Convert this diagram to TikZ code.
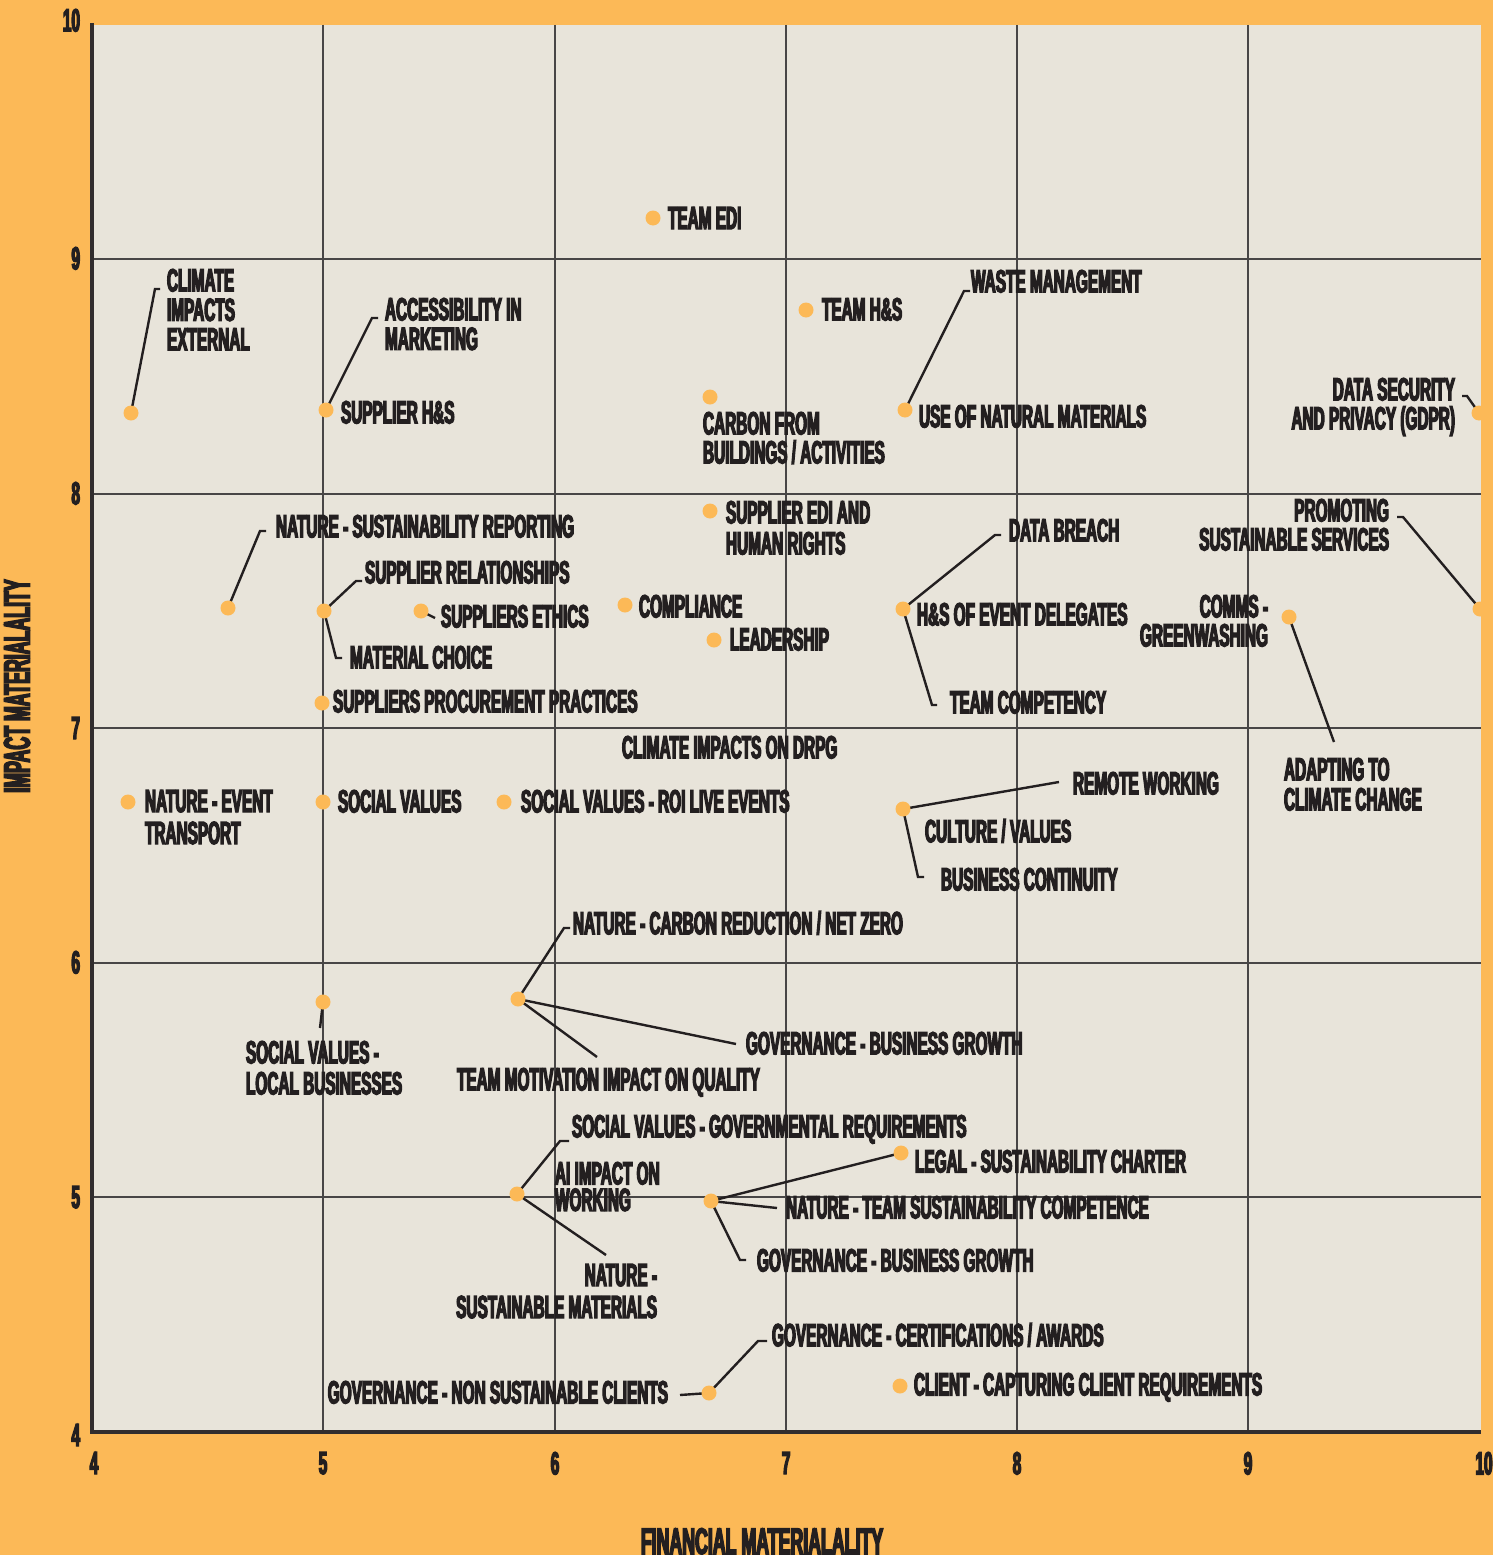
\documentclass[tikz,border=0pt]{standalone}
\usepackage{fontspec}
\newfontfamily\lblfont{Liberation Sans}[FakeStretch=0.48, FakeBold=4]
\definecolor{bgorange}{RGB}{252,185,87}
\definecolor{plotbg}{RGB}{232,228,218}
\definecolor{ink}{RGB}{35,31,32}
\definecolor{gridc}{RGB}{72,70,70}
\definecolor{dotc}{RGB}{252,185,87}
\tikzset{
  lbl/.style={font={\lblfont\bfseries\fontsize{32}{#1}\selectfont\lineskiplimit=-100pt}, text=ink, inner sep=0pt, outer sep=0pt},
  lbl/.default=29.5,
  lnw/.style={lbl=#1, anchor=north west, align=left},
  lnw/.default=29.5,
  lne/.style={lbl=#1, anchor=north east, align=right},
  lne/.default=29.5,
  dot/.style={circle, fill=dotc, inner sep=0pt, minimum size=15pt},
  leader/.style={draw=ink, line width=2.4pt, line cap=butt, line join=miter},
  gridline/.style={draw=gridc, line width=1.4pt},
  axisline/.style={draw=ink!85!gray, line width=4pt},
  title/.style={font={\lblfont\bfseries\fontsize{37}{40}\selectfont}, text=ink, inner sep=0pt},
}
\begin{document}
\begin{tikzpicture}[x=1pt,y=-1pt]
\useasboundingbox (0,0) rectangle (1493,1555);
\fill[bgorange] (0,0) rectangle (1493,1555);
\fill[plotbg] (92,25) rectangle (1481,1432);
% grid
\foreach \gx in {323,555,786,1017,1248} \draw[gridline] (\gx,25) -- (\gx,1432);
\foreach \gy in {259,494,728,963,1197} \draw[gridline] (92,\gy) -- (1481,\gy);
% axes
\draw[axisline] (92,23) -- (92,1434);
\draw[axisline] (90,1432) -- (1481,1432);

% dot centres
\coordinate (cCIE) at (131,413);
\coordinate (cSHS) at (326,410);
\coordinate (cEDI) at (653,218);
\coordinate (cTHS) at (806,310);
\coordinate (cCAR) at (710,397);
\coordinate (cUNM) at (905,410);
\coordinate (cGDPR) at (1479,413);
\coordinate (cNSR) at (228,608);
\coordinate (cSRL) at (324,611);
\coordinate (cSE) at (421,611);
\coordinate (cSPP) at (322,703);
\coordinate (cCOM) at (625,605);
\coordinate (cLEAD) at (714,640);
\coordinate (cSEDI) at (710,511);
\coordinate (cHSE) at (903,609);
\coordinate (cPSS) at (1480,609);
\coordinate (cCG) at (1289,617);
\coordinate (cRW) at (903,809);
\coordinate (cNET) at (128,802);
\coordinate (cSV) at (323,802);
\coordinate (cSVR) at (504,802);
\coordinate (cNCR) at (518,999);
\coordinate (cSVL) at (323,1002);
\coordinate (cAI) at (517,1194);
\coordinate (cNTS) at (711,1201);
\coordinate (cLEG) at (901,1153);
\coordinate (cGNS) at (709,1393);
\coordinate (cCLI) at (900,1386);

% leader bend / end points
\coordinate (bCIE) at (155,289);   \coordinate (eCIE) at (160,289);
\coordinate (bACC) at (372,318);   \coordinate (eACC) at (378,318);
\coordinate (bWM) at (964,291);    \coordinate (eWM) at (970,291);
\coordinate (bGDPR) at (1467,396); \coordinate (eGDPR) at (1462,396);
\coordinate (bNSR) at (260,531);   \coordinate (eNSR) at (266,531);
\coordinate (bSRL) at (356,581);   \coordinate (eSRL) at (362,581);
\coordinate (bMC) at (336,658);    \coordinate (eMC) at (342,658);
\coordinate (eSE) at (435,618);
\coordinate (bDB) at (995,535);    \coordinate (eDB) at (1001,535);
\coordinate (bTC) at (932,705);    \coordinate (eTC) at (937,705);
\coordinate (bPSS) at (1403,517);  \coordinate (ePSS) at (1397,517);
\coordinate (eADP) at (1334,742);
\coordinate (eRW) at (1059,782);
\coordinate (bBC) at (918,877);    \coordinate (eBC) at (924,877);
\coordinate (bNCR) at (564,928);   \coordinate (eNCR) at (570,928);
\coordinate (eGBG) at (736,1044);
\coordinate (eTM) at (597,1057);
\coordinate (eSVL) at (320,1028);
\coordinate (bSVG) at (560,1141);  \coordinate (eSVG) at (569,1141);
\coordinate (eNSM) at (606,1255);
\coordinate (eNTS) at (777,1208);
\coordinate (bGBG2) at (740,1260); \coordinate (eGBG2) at (746,1260);
\coordinate (bGCA) at (758,1341);  \coordinate (eGCA) at (767,1341);
\coordinate (eGNS) at (680,1395);

% leaders
\draw[leader] (cCIE) -- (bCIE) -- (eCIE);
\draw[leader] (cSHS) -- (bACC) -- (eACC);
\draw[leader] (cUNM) -- (bWM) -- (eWM);
\draw[leader] (cGDPR) -- (bGDPR) -- (eGDPR);
\draw[leader] (cNSR) -- (bNSR) -- (eNSR);
\draw[leader] (cSRL) -- (bSRL) -- (eSRL);
\draw[leader] (cSRL) -- (bMC) -- (eMC);
\draw[leader] (cSE) -- (eSE);
\draw[leader] (cHSE) -- (bDB) -- (eDB);
\draw[leader] (cHSE) -- (bTC) -- (eTC);
\draw[leader] (cPSS) -- (bPSS) -- (ePSS);
\draw[leader] (cCG) -- (eADP);
\draw[leader] (cRW) -- (eRW);
\draw[leader] (cRW) -- (bBC) -- (eBC);
\draw[leader] (cNCR) -- (bNCR) -- (eNCR);
\draw[leader] (cNCR) -- (eGBG);
\draw[leader] (cNCR) -- (eTM);
\draw[leader] (cSVL) -- (eSVL);
\draw[leader] (cAI) -- (bSVG) -- (eSVG);
\draw[leader] (cAI) -- (eNSM);
\draw[leader] (cNTS) -- (cLEG);
\draw[leader] (cNTS) -- (eNTS);
\draw[leader] (cNTS) -- (bGBG2) -- (eGBG2);
\draw[leader] (cGNS) -- (bGCA) -- (eGCA);
\draw[leader] (cGNS) -- (eGNS);

% dots
\begin{scope}
\clip (92,25) rectangle (1481,1432);
\foreach \n in {CIE,SHS,EDI,THS,CAR,UNM,GDPR,NSR,SRL,SE,SPP,COM,LEAD,SEDI,HSE,PSS,CG,RW,NET,SV,SVR,NCR,SVL,AI,NTS,LEG,GNS,CLI}
  \node[dot] (d\n) at (c\n) {};
\end{scope}

% labels
\node[lnw] (tCIE) at (167,269) {CLIMATE\\IMPACTS\\EXTERNAL};
\node[lnw] (tACC) at (385,298) {ACCESSIBILITY IN\\MARKETING};
\node[lnw] (tSHS) at (341,401) {SUPPLIER H\&S};
\node[lnw] (tEDI) at (668,207) {TEAM EDI};
\node[lnw] (tTHS) at (822,298) {TEAM H\&S};
\node[lnw=29] (tCAR) at (703,412) {CARBON FROM\\BUILDINGS / ACTIVITIES};
\node[lnw] (tWM) at (971,270) {WASTE MANAGEMENT};
\node[lnw] (tUNM) at (919,405) {USE OF NATURAL MATERIALS};
\node[lne=29] (tGDPR) at (1455,378) {DATA SECURITY\\AND PRIVACY (GDPR)};
\node[lnw] (tNSR) at (276,515) {NATURE - SUSTAINABILITY REPORTING};
\node[lnw] (tSRL) at (365,561) {SUPPLIER RELATIONSHIPS};
\node[lnw] (tSE) at (441,605) {SUPPLIERS ETHICS};
\node[lnw] (tMC) at (350,646) {MATERIAL CHOICE};
\node[lnw] (tSPP) at (333,690) {SUPPLIERS PROCUREMENT PRACTICES};
\node[lnw] (tCOM) at (639,595) {COMPLIANCE};
\node[lnw] (tLEAD) at (730,628) {LEADERSHIP};
\node[lnw=31] (tSEDI) at (726,501) {SUPPLIER EDI AND\\HUMAN RIGHTS};
\node[lnw] (tHSE) at (917,603) {H\&S OF EVENT DELEGATES};
\node[lnw] (tDB) at (1009,519) {DATA BREACH};
\node[lnw] (tTC) at (950,691) {TEAM COMPETENCY};
\node[lnw] (tCID) at (622,736) {CLIMATE IMPACTS ON DRPG};
\node[lne=29] (tPSS) at (1389,499) {PROMOTING\\SUSTAINABLE SERVICES};
\node[lne=29] (tCG) at (1268,595) {COMMS -\\GREENWASHING};
\node[lnw=30] (tADP) at (1284,758) {ADAPTING TO\\CLIMATE CHANGE};
\node[lnw] (tRW) at (1073,772) {REMOTE WORKING};
\node[lnw] (tCV) at (925,819) {CULTURE / VALUES};
\node[lnw] (tBC) at (941,868) {BUSINESS CONTINUITY};
\node[lnw=32] (tNET) at (145,790) {NATURE - EVENT\\TRANSPORT};
\node[lnw] (tSV) at (338,790) {SOCIAL VALUES};
\node[lnw] (tSVR) at (521,790) {SOCIAL VALUES - ROI LIVE EVENTS};
\node[lnw] (tNCR) at (573,911) {NATURE - CARBON REDUCTION / NET ZERO};
\node[lnw] (tGBG) at (746,1032) {GOVERNANCE - BUSINESS GROWTH};
\node[lnw] (tTM) at (457,1068) {TEAM MOTIVATION IMPACT ON QUALITY};
\node[lnw=31] (tSVL) at (246,1041) {SOCIAL VALUES -\\LOCAL BUSINESSES};
\node[lnw] (tSVG) at (572,1115) {SOCIAL VALUES - GOVERNMENTAL REQUIREMENTS};
\node[lnw=26.5] (tAI) at (555,1162) {AI IMPACT ON\\WORKING};
\node[lne=32] (tNSM) at (657,1264) {NATURE -\\SUSTAINABLE MATERIALS};
\node[lnw] (tLEG) at (915,1150) {LEGAL - SUSTAINABILITY CHARTER};
\node[lnw] (tNTS) at (786,1196) {NATURE - TEAM SUSTAINABILITY COMPETENCE};
\node[lnw] (tGBG2) at (757,1249) {GOVERNANCE - BUSINESS GROWTH};
\node[lnw] (tGCA) at (772,1323) {GOVERNANCE - CERTIFICATIONS / AWARDS};
\node[lne] (tGNS) at (668,1381) {GOVERNANCE - NON SUSTAINABLE CLIENTS};
\node[lnw] (tCLI) at (914,1373) {CLIENT - CAPTURING CLIENT REQUIREMENTS};

% axis tick labels
\node[lbl, anchor=north east] (y10) at (80,9) {10};
\node[lbl, anchor=north east] (y9) at (80,247) {9};
\node[lbl, anchor=north east] (y8) at (80,482) {8};
\node[lbl, anchor=north east] (y7) at (80,717) {7};
\node[lbl, anchor=north east] (y6) at (80,951) {6};
\node[lbl, anchor=north east] (y5) at (80,1186) {5};
\node[lbl, anchor=north east] (y4) at (80,1424) {4};
\node[lbl, anchor=north] (x4) at (94,1452) {4};
\node[lbl, anchor=north] (x5) at (323,1452) {5};
\node[lbl, anchor=north] (x6) at (555,1452) {6};
\node[lbl, anchor=north] (x7) at (786,1452) {7};
\node[lbl, anchor=north] (x8) at (1017,1452) {8};
\node[lbl, anchor=north] (x9) at (1248,1452) {9};
\node[lbl, anchor=north] (x10) at (1484,1452) {10};

% axis titles
\node[title, rotate=90] (ytitle) at (17,686) {IMPACT MATERIALALITY};
\node[title, anchor=north] (xtitle) at (762,1528) {FINANCIAL MATERIALALITY};
\end{tikzpicture}
\end{document}
